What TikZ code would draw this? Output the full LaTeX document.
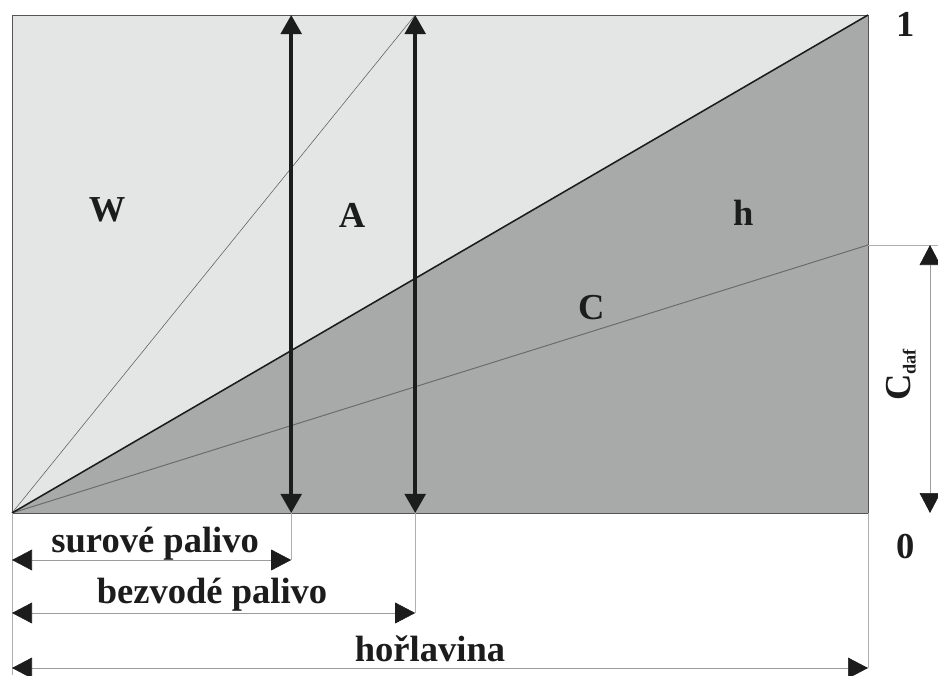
\documentclass[tikz,border=0pt]{standalone}
\usepackage{fontspec}
\setmainfont{Liberation Serif}
\usetikzlibrary{arrows.meta}
\definecolor{ink}{HTML}{1C1C1C}
\definecolor{paper}{HTML}{E4E6E6}
\definecolor{darkfill}{HTML}{A8AAAA}
\definecolor{rule}{HTML}{9C9C9C}
\tikzset{
  label/.style={font=\bfseries\fontsize{26}{30}\selectfont, text=ink, inner sep=0pt},
  frame/.style={draw=ink!75, line width=0.6pt},
  wline/.style={draw=ink!70, line width=0.4pt},
  hline/.style={draw=ink, line width=1.1pt},
  cline/.style={draw=ink!65, line width=0.7pt},
  ext/.style={draw=rule!80, line width=0.35pt},
  bigarrow/.style={{Triangle[length=4.8mm, width=5.2mm]}-{Triangle[length=4.8mm, width=5.2mm]},
    draw=ink, line width=2.5pt},
  dimarrow/.style={{Triangle[length=5mm, width=5.2mm, color=ink]}-{Triangle[length=5mm, width=5.2mm, color=ink]},
    draw=rule, line width=0.45pt}
}

\begin{document}
\begin{tikzpicture}[x=1cm,y=1cm]
\useasboundingbox (0,0) rectangle (23.45,16.875);

% Corners and crossing points
\coordinate (o) at (0.30,4.05);
\coordinate (br) at (21.70,4.05);
\coordinate (tr) at (21.70,16.50);
\coordinate (s0) at (7.28,4.05);
\coordinate (s1) at (7.28,16.50);
\coordinate (b0) at (10.38,4.05);
\coordinate (b1) at (10.38,16.50);
\coordinate (cr) at (21.70,10.75);

% Areas
\fill[paper] (o) rectangle (tr);
\fill[darkfill] (o) -- (tr) -- (br) -- cycle;
\draw[frame] (o) rectangle (tr);

% Boundaries
\draw[wline] (o) -- (b1);
\draw[cline] (o) -- (cr);
\draw[hline] (o) -- (tr);

% Vertical arrows
\draw[bigarrow] (s0) -- (s1);
\draw[bigarrow] (b0) -- (b1);

% Area letters
\node[label] (w) at (2.68,11.63) {W};
\node[label] (a) at (8.80,11.50) {A};
\node[label] (h) at (18.58,11.55) {h};
\node[label] (c) at (14.78,9.18) {C};
\node[label] (one) at (22.63,16.27) {1};
\node[label] (zero) at (22.63,3.22) {0};

% Dimension lines below
\coordinate (ob) at (0.30,0);
\coordinate (d1l) at (0.30,2.875);
\coordinate (d1r) at (7.28,2.875);
\coordinate (d2l) at (0.30,1.55);
\coordinate (d2r) at (10.38,1.55);
\coordinate (d3l) at (0.30,0.175);
\coordinate (d3r) at (21.70,0.175);
\draw[ext] (o) -- (ob);
\draw[ext] (s0) -- (d1r);
\draw[ext] (b0) -- (d2r);
\draw[ext] (br) -- (d3r);
\draw[dimarrow] (d1l) -- (d1r);
\draw[dimarrow] (d2l) -- (d2r);
\draw[dimarrow] (d3l) -- (d3r);
\node[label, anchor=base] (raw) at (3.88,3.07) {surové palivo};
\node[label, anchor=base] (dry) at (5.30,1.80) {bezvodé palivo};
\node[label, anchor=base] (comb) at (10.75,0.33) {hořlavina};

% Carbon share on the right
\coordinate (ce) at (23.45,10.75);
\coordinate (cd1) at (23.25,10.75);
\coordinate (cd0) at (23.25,4.05);
\draw[ext] (cr) -- (ce);
\draw[dimarrow] (cd1) -- (cd0);
\node[label, rotate=90] (cdaf) at (22.53,7.50)
  {C\raisebox{-0.3ex}{\fontsize{13}{14}\selectfont daf}};

\end{tikzpicture}
\end{document}
